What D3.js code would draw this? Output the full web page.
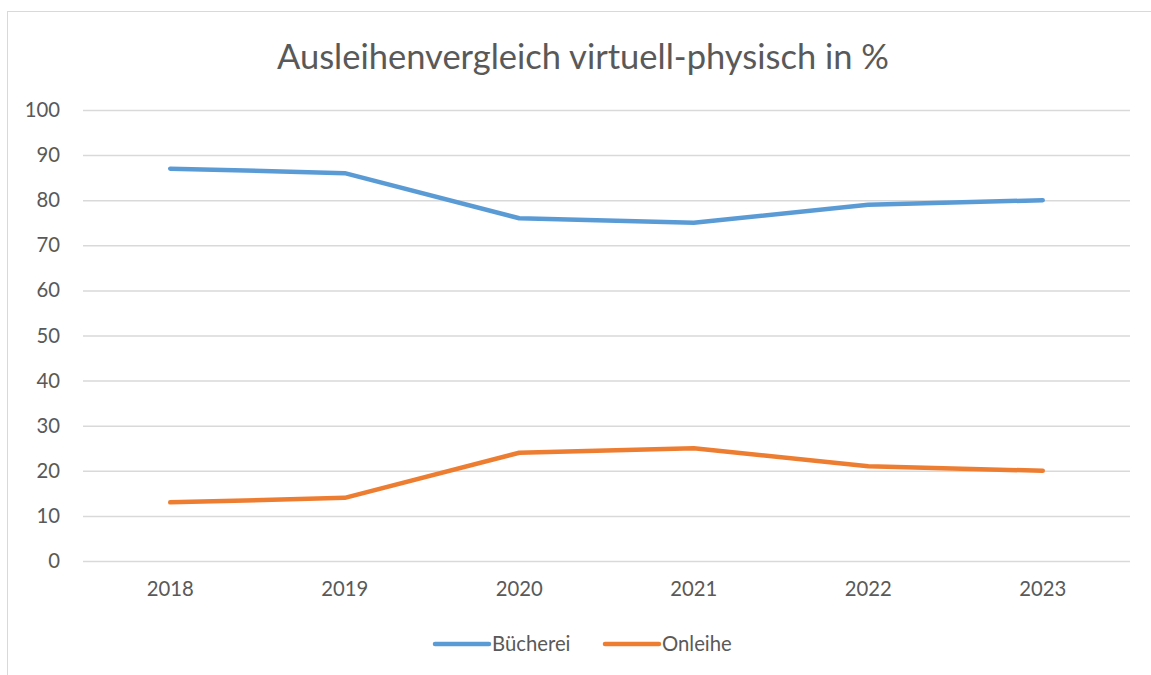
<!DOCTYPE html>
<html>
<head>
<meta charset="utf-8">
<script src="https://cdn.jsdelivr.net/npm/d3@7"></script>
<style>
  body { margin: 0; background: #fff; }
  svg { display: block; font-family: Lato, "Open Sans", sans-serif; }
</style>
</head>
<body>
<div id="chart"></div>
<script>
const years = ["2018", "2019", "2020", "2021", "2022", "2023"];
const buecherei = [87, 86, 76, 75, 79, 80];
const onleihe = [13, 14, 24, 25, 21, 20];
const yTicks = [0, 10, 20, 30, 40, 50, 60, 70, 80, 90, 100];

const width = 1151, height = 675;
const margin = { top: 110, right: 21, bottom: 114, left: 83 };
const font = "Lato, Open Sans, sans-serif";

const svg = d3.select("#chart").append("svg")
  .attr("width", width).attr("height", height);

// chart frame
svg.append("rect")
  .attr("x", 7.5).attr("y", 11.5)
  .attr("width", width + 20).attr("height", height + 20)
  .attr("fill", "none").attr("stroke", "#d9d9d9").attr("stroke-width", 1);

const x = d3.scaleBand().domain(years)
  .range([margin.left, width - margin.right]);
const y = d3.scaleLinear().domain([0, 100])
  .range([height - margin.bottom, margin.top]);

svg.append("text")
  .attr("x", 583).attr("y", 69)
  .attr("text-anchor", "middle")
  .attr("font-size", 34.5)
  .attr("fill", "#595959")
  .text("Ausleihenvergleich virtuell-physisch in %");

// gridlines
svg.append("g")
  .selectAll("line").data(yTicks).join("line")
  .attr("x1", margin.left).attr("x2", width - margin.right)
  .attr("y1", d => y(d) + 0.5).attr("y2", d => y(d) + 0.5)
  .attr("stroke", "#d9d9d9").attr("stroke-width", 1.5);

// y axis labels
const yAxis = svg.append("g")
  .attr("transform", `translate(${margin.left - 23},0)`)
  .call(d3.axisLeft(y).tickValues(yTicks).tickSize(0).tickPadding(0));
yAxis.select(".domain").remove();
yAxis.selectAll("text")
  .attr("font-size", 20.3).attr("fill", "#595959")
  .attr("font-family", font);

// x axis labels
const xAxis = svg.append("g")
  .attr("transform", `translate(0,${height - margin.bottom + 21})`)
  .call(d3.axisBottom(x).tickSize(0).tickPadding(0));
xAxis.select(".domain").remove();
xAxis.selectAll("text")
  .attr("font-size", 20.3).attr("fill", "#595959")
  .attr("font-family", font);

const line = d3.line()
  .x((d, i) => x(years[i]) + x.bandwidth() / 2)
  .y(d => y(d));

const series = [
  { name: "Bücherei", values: buecherei, color: "#5b9bd5" },
  { name: "Onleihe", values: onleihe, color: "#ed7d31" }
];

svg.append("g").selectAll("path").data(series).join("path")
  .attr("d", d => line(d.values))
  .attr("fill", "none")
  .attr("stroke", d => d.color)
  .attr("stroke-width", 4.5)
  .attr("stroke-linecap", "round")
  .attr("stroke-linejoin", "round");

// legend
const legendX = [435, 605];
const legend = svg.append("g").selectAll("g").data(series).join("g")
  .attr("transform", (d, i) => `translate(${legendX[i]},644)`);
legend.append("line")
  .attr("x1", 0).attr("x2", 54)
  .attr("stroke", d => d.color).attr("stroke-width", 4.5)
  .attr("stroke-linecap", "round");
legend.append("text")
  .attr("x", 57).attr("y", 7)
  .attr("font-size", 20.3).attr("fill", "#595959")
  .attr("font-family", font)
  .text(d => d.name);
</script>
</body>
</html>
